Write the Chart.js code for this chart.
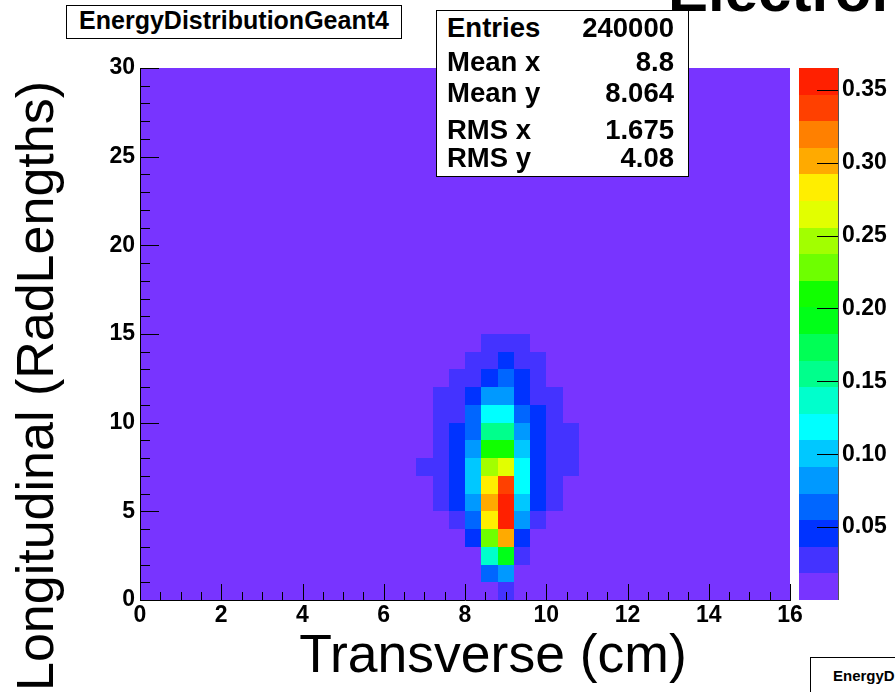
<!DOCTYPE html>
<html>
<head>
<meta charset="UTF-8">
<title>EnergyDistributionGeant4</title>
<script src="https://cdn.jsdelivr.net/npm/chart.js"></script>
<style>
  body { margin: 0; background: #fff; }
  #wrap { position: relative; width: 895px; height: 692px; overflow: hidden;
          font-family: "Liberation Sans", Arial, sans-serif; color: #000; }
  #chart { position: absolute; left: 0; top: 0; }
  .box { position: absolute; background: #fff; border: 1px solid #000; box-sizing: border-box; }
  .txt { position: absolute; white-space: nowrap; }
</style>
</head>
<body>
<div id="wrap">
  <canvas id="chart" width="895" height="692"></canvas>
  <div class="box" style="left:66px;top:5px;width:336px;height:34px"></div>
  <div class="box" style="left:436px;top:10px;width:253px;height:167px"></div>
  <div class="box" style="left:810px;top:657px;width:120px;height:60px"></div>
</div>
<script>
// axis ticks
const xTicks = [0, 2, 4, 6, 8, 10, 12, 14, 16];
const yTicks = [0, 5, 10, 15, 20, 25, 30];
const zTicks = [0.05, 0.10, 0.15, 0.20, 0.25, 0.30, 0.35];
const zMax = 0.365;
const nLevels = 20;

// bins: 0.4 cm wide, 1 radiation length high
const binW = 0.4;
const binH = 1;
const xBins = [6.8, 7.2, 7.6, 8.0, 8.4, 8.8, 9.2, 9.6, 10.0, 10.4];

// energy per bin, one array per depth row (lower edge 0..14)
const depth0  = [0, 0, 0, 0, 0, 0.026, 0, 0, 0, 0];
const depth1  = [0, 0, 0, 0, 0.063, 0.080, 0, 0, 0, 0];
const depth2  = [0, 0, 0, 0, 0.140, 0.196, 0.029, 0, 0, 0];
const depth3  = [0, 0, 0, 0.045, 0.230, 0.300, 0.043, 0, 0, 0];
const depth4  = [0, 0, 0.030, 0.065, 0.283, 0.352, 0.081, 0.033, 0, 0];
const depth5  = [0, 0.027, 0.047, 0.087, 0.302, 0.358, 0.099, 0.046, 0.028, 0];
const depth6  = [0, 0.029, 0.050, 0.104, 0.285, 0.345, 0.118, 0.049, 0.030, 0];
const depth7  = [0.020, 0.028, 0.048, 0.103, 0.250, 0.266, 0.122, 0.049, 0.031, 0.023];
const depth8  = [0, 0.027, 0.046, 0.086, 0.205, 0.208, 0.101, 0.048, 0.031, 0.022];
const depth9  = [0, 0.025, 0.041, 0.068, 0.158, 0.160, 0.084, 0.049, 0.030, 0.020];
const depth10 = [0, 0.023, 0.032, 0.066, 0.121, 0.124, 0.063, 0.050, 0.025, 0];
const depth11 = [0, 0.020, 0.026, 0.047, 0.085, 0.088, 0.045, 0.029, 0.021, 0];
const depth12 = [0, 0, 0.022, 0.030, 0.044, 0.062, 0.040, 0.026, 0, 0];
const depth13 = [0, 0, 0, 0.024, 0.031, 0.041, 0.028, 0.021, 0, 0];
const depth14 = [0, 0, 0, 0, 0.027, 0.029, 0.025, 0, 0, 0];
const depthRows = [depth0, depth1, depth2, depth3, depth4, depth5, depth6, depth7,
                   depth8, depth9, depth10, depth11, depth12, depth13, depth14];

const statLabels = ['Entries', 'Mean x', 'Mean y', 'RMS x', 'RMS y'];
const statValues = ['240000', '8.8', '8.064', '1.675', '4.08'];

// ROOT style rainbow palette, one colour per contour level
const palette = ['#7834ff', '#4433ff', '#0033ff', '#0066ff', '#0099ff', '#00c8ff', '#00ffff',
                 '#00ffcc', '#00ff8c', '#00ff55', '#00ff18', '#11ff00', '#6eff00', '#a2ff00',
                 '#e2ff00', '#ffee00', '#ffaa00', '#ff8000', '#ff4000', '#ff2000'];

function levelColor(v) {
    let k = Math.floor(v / (zMax / nLevels));
    return palette[Math.max(0, Math.min(nLevels - 1, k))];
}

let cells = [];
depthRows.forEach(function (row, r) {
    row.forEach(function (v, c) {
        if (v > 0) cells.push({ x: xBins[c], y: r, v: v });
    });
});

const fam = '"Liberation Sans", Arial, sans-serif';
const tickFont = { family: fam, size: 23, weight: 'bold' };

const heatmap = {
    id: 'heatmap',
    beforeDraw(chart) {
        const ctx = chart.ctx, a = chart.chartArea;
        const x = chart.scales.x, y = chart.scales.y, z = chart.scales.z;
        ctx.save();
        ctx.fillStyle = palette[0];
        ctx.fillRect(a.left, a.top, a.right - a.left, a.bottom - a.top);
        chart.data.datasets[0].data.forEach(function (p) {
            const x0 = Math.round(x.getPixelForValue(p.x));
            const x1 = Math.round(x.getPixelForValue(p.x + binW));
            const y0 = Math.round(y.getPixelForValue(p.y + binH));
            const y1 = Math.round(y.getPixelForValue(p.y));
            ctx.fillStyle = levelColor(p.v);
            ctx.fillRect(x0, y0, x1 - x0, y1 - y0);
        });
        // palette bar
        for (let k = 0; k < nLevels; k++) {
            const t = Math.round(z.getPixelForValue((k + 1) * zMax / nLevels));
            const b = Math.round(z.getPixelForValue(k * zMax / nLevels));
            ctx.fillStyle = palette[k];
            ctx.fillRect(799, t, 39, b - t);
        }
        ctx.restore();
    },
    afterDraw(chart) {
        const ctx = chart.ctx, a = chart.chartArea;
        const x = chart.scales.x, y = chart.scales.y, z = chart.scales.z;
        ctx.save();
        ctx.strokeStyle = '#000';
        ctx.lineWidth = 1;
        ctx.beginPath();
        for (let v = 0; v <= 16.001; v += 0.5) {
            const px = Math.round(x.getPixelForValue(v)) + 0.5;
            const len = Math.abs(v / 2 - Math.round(v / 2)) < 1e-6 ? 16 : 8;
            ctx.moveTo(px, a.bottom);
            ctx.lineTo(px, a.bottom - len);
        }
        for (let v = 0; v <= 30; v++) {
            const py = Math.round(y.getPixelForValue(v)) + 0.5;
            const len = v % 5 === 0 ? 19 : 10;
            ctx.moveTo(a.left, py);
            ctx.lineTo(a.left + len, py);
        }
        zTicks.forEach(function (t) {
            const py = Math.round(z.getPixelForValue(t)) + 0.5;
            ctx.moveTo(838, py);
            ctx.lineTo(817, py);
        });
        ctx.stroke();
        ctx.strokeStyle = '#555';
        ctx.beginPath();
        ctx.moveTo(838.5, a.top);
        ctx.lineTo(838.5, a.bottom);
        ctx.stroke();
        ctx.restore();
    }
};

const chart = new Chart(document.getElementById('chart').getContext('2d'), {
    type: 'scatter',
    data: {
        datasets: [{ label: 'EnergyDistributionGeant4', data: cells, pointRadius: 0, pointHoverRadius: 0 }]
    },
    options: {
        responsive: false,
        animation: false,
        events: [],
        layout: { padding: { left: 0, right: 0, top: 68, bottom: 0 } },
        plugins: { legend: { display: false }, tooltip: { enabled: false } },
        scales: {
            x: {
                type: 'linear', min: 0, max: 16,
                afterBuildTicks: function (s) { s.ticks = xTicks.map(function (v) { return { value: v }; }); },
                afterFit: function (s) { s.height = 92; },
                ticks: { font: tickFont, color: '#000', padding: 2, maxRotation: 0, autoSkip: false },
                grid: { display: false, drawTicks: false },
                border: { display: true, color: '#000', width: 1 }
            },
            y: {
                type: 'linear', min: 0, max: 30,
                afterBuildTicks: function (s) { s.ticks = yTicks.map(function (v) { return { value: v }; }); },
                afterFit: function (s) { s.width = 140; },
                ticks: { font: tickFont, color: '#000', padding: 5, autoSkip: false },
                grid: { display: false, drawTicks: false },
                border: { display: true, color: '#000', width: 1 }
            },
            z: {
                type: 'linear', position: 'right', min: 0, max: zMax,
                afterBuildTicks: function (s) { s.ticks = zTicks.map(function (v) { return { value: v }; }); },
                afterFit: function (s) { s.width = 105; },
                ticks: { font: tickFont, color: '#000', padding: 52, autoSkip: false,
                         callback: function (v) { return v.toFixed(2); } },
                grid: { display: false, drawTicks: false },
                border: { display: false }
            }
        }
    },
    plugins: [heatmap]
});

// text placed by baseline
const wrap = document.getElementById('wrap');
function addText(txt, x, base, size, weight, align) {
    const d = document.createElement('div');
    d.className = 'txt';
    d.textContent = txt;
    d.style.font = weight + ' ' + size + 'px ' + fam;
    d.style.lineHeight = size + 'px';
    d.style.top = (base - 0.8465 * size) + 'px';
    if (align === 'left') {
        d.style.left = x + 'px';
    } else if (align === 'right') {
        d.style.right = (895 - x) + 'px';
    } else {
        d.style.left = x + 'px';
        d.style.transform = 'translateX(-50%)';
    }
    wrap.appendChild(d);
    return d;
}

addText('EnergyDistributionGeant4', 234, 29, 25, 'bold', 'center');
addText('Electron', 668, 12, 60, 'bold', 'left');
addText('EnergyDistributionGeant4', 833, 681, 15, 'bold', 'left');
const base = [37, 71, 102, 139, 167];
statLabels.forEach(function (s, i) {
    addText(s, 447, base[i], 27.5, 'bold', 'left');
    addText(statValues[i], 674, base[i], 27.5, 'bold', 'right');
});
addText('Transverse (cm)', 493, 672, 53.5, 'normal', 'center');

const yt = document.createElement('div');
yt.className = 'txt';
yt.textContent = 'Longitudinal (RadLengths)';
yt.style.font = 'normal 52px ' + fam;
yt.style.lineHeight = '52px';
yt.style.left = (53 - 0.3465 * 52) + 'px';
yt.style.top = '386px';
yt.style.transform = 'translate(-50%, -50%) rotate(-90deg)';
wrap.appendChild(yt);
</script>
</body>
</html>
